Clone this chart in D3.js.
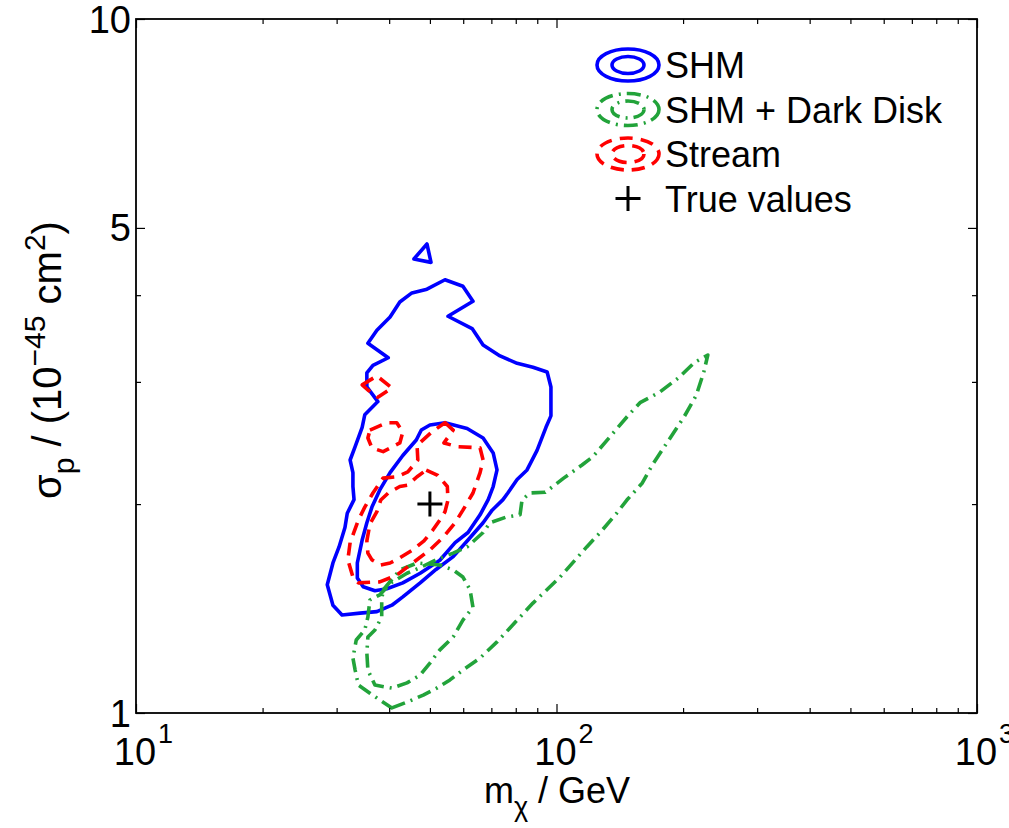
<!DOCTYPE html>
<html>
<head>
<meta charset="utf-8">
<script src="https://cdn.jsdelivr.net/npm/d3@7"></script>
<style>
  body { margin: 0; background: #fff; }
  svg { display: block; }
  text { font-family: "Liberation Sans", Arial, Helvetica, sans-serif; fill: #000; }
</style>
</head>
<body>
<svg width="1009" height="828"></svg>
<script>
// contour vertices: [m_chi (GeV), sigma_p (1e-45 cm^2)]
const shm95 = [[54.3,4.21],[59.9,4.12],[63.3,3.92],[55.2,3.73],[63.0,3.58],[66.9,3.39],[73.4,3.27],[80.6,3.19],
  [87.9,3.15],[95.0,3.10],[97.0,2.95],[97.0,2.68],[94.4,2.58],[89.9,2.39],[85.1,2.24],[80.6,2.17],[76.6,2.075],
  [74.6,2.03],[70.3,1.96],[66.9,1.88],[61.6,1.775],[56.8,1.68],[51.7,1.61],[47.4,1.54],[43.1,1.47],[40.6,1.43],
  [37.4,1.40],[34.1,1.393],[30.9,1.384],[29.4,1.43],[28.5,1.53],[29.4,1.645],[30.4,1.735],[31.4,1.85],[31.8,1.94],
  [33.0,2.03],[32.8,2.12],[32.8,2.22],[32.3,2.315],[33.2,2.42],[34.5,2.58],[35.0,2.69],[37.6,2.81],[35.4,2.95],
  [35.4,3.09],[36.6,3.17],[39.8,3.25],[35.6,3.41],[37.4,3.56],[40.2,3.72],[42.4,3.91],[45.3,4.03],[49.2,4.08]];
const shm95Island = [[49.2,4.74],[50.3,4.46],[45.8,4.51]];
const shm68 = [[54.3,2.62],[61.3,2.57],[66.9,2.49],[70.7,2.37],[72.2,2.24],[70.7,2.12],[68.8,2.03],[65.8,1.93],
  [61.6,1.82],[57.4,1.76],[52.8,1.66],[47.4,1.59],[43.1,1.54],[39.5,1.51],[37.0,1.50],[34.7,1.52],[33.6,1.565],
  [33.6,1.645],[34.5,1.775],[35.4,1.88],[36.4,1.98],[38.0,2.096],[40.2,2.22],[43.1,2.35],[46.4,2.474],[47.7,2.557],[50.0,2.60]];

const dd95 = [[40.6,1.017],[44.1,1.037],[48.2,1.061],[51.9,1.086],[55.8,1.116],[59.9,1.153],[65.8,1.20],[72.2,1.266],
  [77.5,1.326],[87.9,1.44],[102,1.57],[118,1.735],[127,1.82],[139,1.94],[147,2.027],[160,2.145],[169,2.277],
  [183,2.45],[201,2.67],[215,2.87],[224,3.10],[229,3.28],[213,3.20],[195,3.04],[176,2.90],[158,2.80],[147,2.67],
  [134,2.50],[122,2.34],[115,2.277],[104,2.18],[99,2.13],[94,2.08],[86.5,2.075],[82.8,2.027],[81.9,1.93],
  [75.8,1.915],[69.5,1.88],[66.9,1.82],[61.3,1.735],[56.8,1.70],[51.7,1.662],[47.4,1.62],[44.1,1.59],[40.4,1.54],
  [38.0,1.48],[36.0,1.455],[35.6,1.375],[35.0,1.317],[33.4,1.274],[32.8,1.20],[33.2,1.153],[33.8,1.097],
  [36.0,1.068],[38.0,1.044]];
const dd68 = [[38.7,1.504],[42.4,1.607],[46.6,1.645],[52.8,1.634],[56.8,1.607],[59.9,1.57],[62.3,1.504],[63.3,1.42],
  [59.9,1.361],[56.8,1.287],[52.8,1.233],[50.0,1.18],[47.4,1.134],[44.1,1.105],[40.6,1.086],[37.0,1.097],
  [35.6,1.153],[35.4,1.22],[35.6,1.287],[37.0,1.317],[38.4,1.375],[38.4,1.455]];

const str95 = [[54.3,2.62],[56.8,2.557],[54.0,2.45],[58.0,2.42],[65.8,2.41],[66.9,2.315],[65.8,2.22],[63.3,2.075],
  [59.9,1.96],[57.4,1.88],[53.7,1.79],[50.0,1.718],[45.5,1.645],[41.7,1.58],[38.0,1.545],[33.8,1.54],[32.8,1.57],
  [31.9,1.662],[32.3,1.76],[33.8,1.897],[35.0,1.98],[36.6,2.075],[38.7,2.18],[41.7,2.19],[44.3,2.225],[46.8,2.315],
  [46.6,2.43],[50.5,2.54]];
const str95IslandA = [[36.0,2.557],[39.5,2.62],[41.7,2.62],[43.1,2.54],[42.4,2.45],[38.7,2.38],[36.4,2.41],[35.6,2.49]];
const str95IslandB = [[34.5,2.97],[37.4,3.06],[40.6,2.94],[37.6,2.85],[35.6,2.92]];
const str68 = [[49.0,2.239],[52.2,2.20],[55.0,2.12],[55.2,2.027],[54.3,1.95],[52.8,1.897],[50.8,1.835],[48.4,1.77],
  [45.5,1.718],[42.4,1.673],[40.2,1.645],[38.2,1.634],[36.4,1.662],[35.6,1.70],[35.4,1.77],[36.0,1.872],
  [37.4,1.95],[38.2,2.027],[39.8,2.075],[42.4,2.12],[44.3,2.13],[46.6,2.19]];

const trueValue = [50, 2];

const seriesNames = ["SHM", "SHM + Dark Disk", "Stream", "True values"];
const xMajor = [10, 100, 1000];
const xMinor = [20, 30, 40, 50, 60, 70, 80, 90, 200, 300, 400, 500, 600, 700, 800, 900];
const yMajor = [1, 5, 10];
const yMinor = [2, 3, 4];

const blue = "#0000ff", green = "#22a33a", red = "#ff0000";
const greenDash = "14,6,2,6", redDash = "13,8";
const svg = d3.select("svg");

const plotLeft = 136, plotRight = 977, plotTop = 19, plotBottom = 713;
const x = d3.scaleLog().domain([10, 1000]).range([plotLeft, plotRight]);
const y = d3.scaleLog().domain([1, 10]).range([plotBottom, plotTop]);

const line = d3.line()
  .x(d => x(d[0]))
  .y(d => y(d[1]))
  .curve(d3.curveLinearClosed);

const contours = [
  {pts: shm95, color: blue, dash: null},
  {pts: shm95Island, color: blue, dash: null},
  {pts: shm68, color: blue, dash: null},
  {pts: dd95, color: green, dash: greenDash},
  {pts: dd68, color: green, dash: greenDash},
  {pts: str95, color: red, dash: redDash},
  {pts: str95IslandA, color: red, dash: redDash},
  {pts: str95IslandB, color: red, dash: redDash},
  {pts: str68, color: red, dash: redDash}
];

const plot = svg.append("g");
plot.selectAll("path.contour")
  .data(contours)
  .join("path")
  .attr("class", "contour")
  .attr("d", d => line(d.pts))
  .attr("fill", "none")
  .attr("stroke", d => d.color)
  .attr("stroke-width", 3.6)
  .attr("stroke-linejoin", "round")
  .attr("stroke-dasharray", d => d.dash);

// true value cross
const plusSize = 12.5;
plot.append("path")
  .attr("d", `M${x(trueValue[0]) - plusSize},${y(trueValue[1])}h${2 * plusSize}M${x(trueValue[0])},${y(trueValue[1]) - plusSize}v${2 * plusSize}`)
  .attr("stroke", "#000")
  .attr("stroke-width", 3);

// axes box and ticks (inward, mirrored)
function addTicks(axisFn, scale, vals, size, transform) {
  svg.append("g")
    .attr("transform", transform)
    .call(axisFn(scale).tickValues(vals).tickSize(size).tickFormat(""))
    .call(g => g.select(".domain").remove())
    .selectAll("line").attr("stroke", "#000").attr("stroke-width", 1.2);
}
addTicks(d3.axisBottom, x, xMajor, -9, `translate(0,${plotBottom})`);
addTicks(d3.axisBottom, x, xMinor, -5, `translate(0,${plotBottom})`);
addTicks(d3.axisTop, x, xMajor, -9, `translate(0,${plotTop})`);
addTicks(d3.axisTop, x, xMinor, -5, `translate(0,${plotTop})`);
addTicks(d3.axisLeft, y, yMajor, -9, `translate(${plotLeft},0)`);
addTicks(d3.axisLeft, y, yMinor, -5, `translate(${plotLeft},0)`);
addTicks(d3.axisRight, y, yMajor, -9, `translate(${plotRight},0)`);
addTicks(d3.axisRight, y, yMinor, -5, `translate(${plotRight},0)`);

svg.append("rect")
  .attr("x", plotLeft).attr("y", plotTop)
  .attr("width", plotRight - plotLeft).attr("height", plotBottom - plotTop)
  .attr("fill", "none").attr("stroke", "#000").attr("stroke-width", 1.8);

// tick labels
const tickFont = 38;
const xt = svg.append("g");
xMajor.forEach(v => {
  xt.append("text")
    .attr("x", x(v) - 1).attr("y", 765)
    .attr("text-anchor", "middle")
    .attr("font-size", tickFont)
    .text("10");
  xt.append("text")
    .attr("x", x(v) + 22).attr("y", 743)
    .attr("font-size", 27)
    .text(Math.round(Math.log10(v)));
});
yMajor.forEach(v => {
  svg.append("text")
    .attr("x", plotLeft - 5).attr("y", y(v) + 13.5)
    .attr("text-anchor", "end")
    .attr("font-size", tickFont)
    .text(v);
});

// axis titles
const xl = svg.append("text")
  .attr("x", 557).attr("y", 803)
  .attr("text-anchor", "middle")
  .attr("font-size", 36);
xl.append("tspan").text("m");
xl.append("tspan").attr("dy", 13).attr("font-size", 27).text("χ");
xl.append("tspan").attr("dy", -13).text(" / GeV");

const yl = svg.append("text")
  .attr("transform", "translate(61,360) rotate(-90)")
  .attr("text-anchor", "middle")
  .attr("font-size", 40);
yl.append("tspan").text("σ");
yl.append("tspan").attr("dy", 13).attr("font-size", 30).text("p");
yl.append("tspan").attr("dy", -13).text(" / (10");
yl.append("tspan").attr("dy", -16).attr("font-size", 30).text("−45");
yl.append("tspan").attr("dy", 16).text(" cm");
yl.append("tspan").attr("dy", -16).attr("font-size", 30).text("2");
yl.append("tspan").attr("dy", 16).text(")");

// legend
const legendRows = [
  {name: seriesNames[0], color: blue, dash: null},
  {name: seriesNames[1], color: green, dash: greenDash},
  {name: seriesNames[2], color: red, dash: redDash},
  {name: seriesNames[3], color: null, dash: null}
];
const lg = svg.append("g");
legendRows.forEach((r, i) => {
  const cy = 65 + i * 44.5;
  if (r.color) {
    [[31, 16], [16, 8.5]].forEach(([rx, ry]) => {
      lg.append("ellipse")
        .attr("cx", 628).attr("cy", cy).attr("rx", rx).attr("ry", ry)
        .attr("fill", "none").attr("stroke", r.color).attr("stroke-width", 3.6)
        .attr("stroke-dasharray", r.dash);
    });
  } else {
    lg.append("path")
      .attr("d", `M${628 - plusSize},${cy}h${2 * plusSize}M628,${cy - plusSize}v${2 * plusSize}`)
      .attr("stroke", "#000").attr("stroke-width", 3);
  }
  lg.append("text")
    .attr("x", 665).attr("y", cy + 13)
    .attr("font-size", 36)
    .text(r.name);
});
</script>
</body>
</html>
